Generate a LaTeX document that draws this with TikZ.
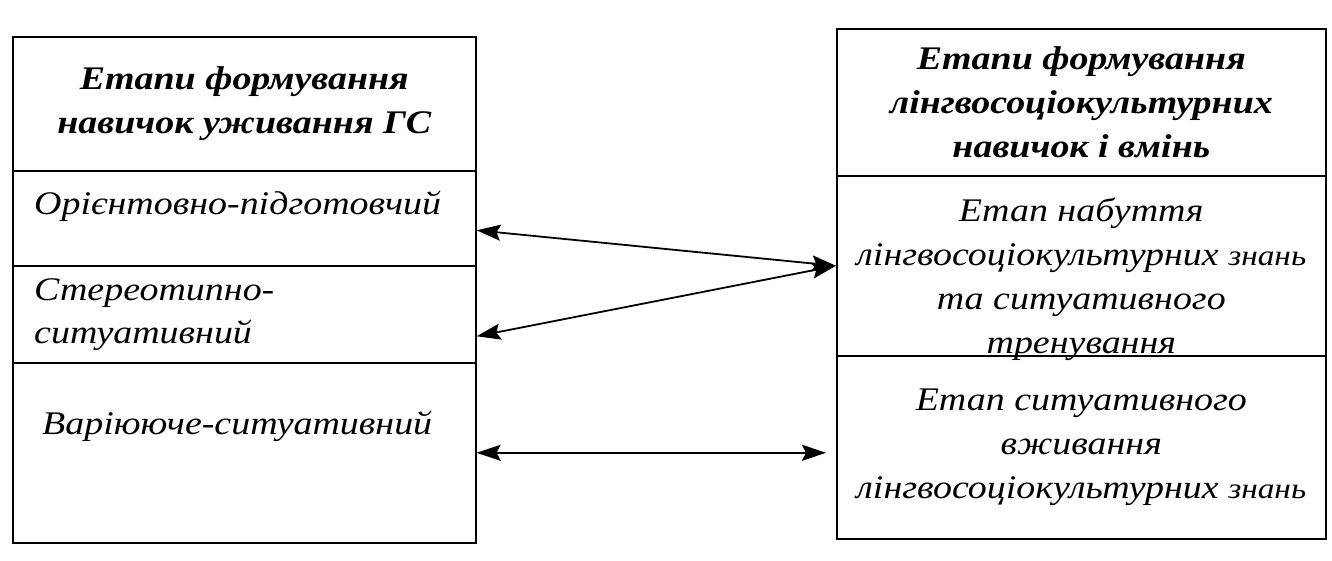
\documentclass[tikz,border=0pt]{standalone}
\usepackage{fontspec}
\setmainfont{Liberation Serif}[FakeStretch=1.15]
\usetikzlibrary{arrows.meta}
\begin{document}
\begin{tikzpicture}[x=1pt,y=-1pt,
  cell/.style={draw, line width=1.6pt, inner sep=0pt, anchor=north west},
  hdtext/.style={align=center, inner sep=0pt, font=\fontsize{33}{44}\selectfont\bfseries\itshape},
  bodytext/.style={align=left, inner sep=0pt, font=\fontsize{33}{43}\selectfont\itshape},
  ctrtext/.style={align=center, inner sep=0pt, font=\fontsize{33}{44}\selectfont\itshape},
  link/.style={line width=1.8pt, >={Stealth[length=24pt,width=16pt,inset=4pt]}, <->}]
\useasboundingbox (0,0) rectangle (1332,561);
% left table
\node[cell, minimum width=463pt, minimum height=134pt] (lh) at (12,36) {};
\node[cell, minimum width=463pt, minimum height=95pt] (l1) at (12,170) {};
\node[cell, minimum width=463pt, minimum height=97pt] (l2) at (12,265) {};
\node[cell, minimum width=463pt, minimum height=180pt] (l3) at (12,362) {};
\node[hdtext] (lht) at (lh.center) {Етапи формування\\навичок уживання ГС};
\node[bodytext, anchor=west] (l1t) at ([xshift=22pt,yshift=-36pt]l1.north west) {Орієнтовно-підготовчий};
\node[bodytext, anchor=west] (l2t) at ([xshift=22pt]l2.west) {Стереотипно-\\ситуативний};
\node[bodytext, anchor=west] (l3t) at ([xshift=30pt,yshift=-64pt]l3.north west) {Варіююче-ситуативний};
% right table
\node[cell, minimum width=489pt, minimum height=147pt] (rh) at (836,28) {};
\node[cell, minimum width=489pt, minimum height=180pt] (r1) at (836,175) {};
\node[cell, minimum width=489pt, minimum height=183pt] (r2) at (836,355) {};
\node[hdtext] (rht) at (rh.center) {Етапи формування\\лінгвосоціокультурних\\навичок і вмінь};
\node[ctrtext] (r1t) at ([yshift=-13pt]r1.center) {Етап набуття\\лінгвосоціокультурних {\fontsize{29}{44}\selectfont знань}\\та ситуативного\\тренування};
\node[ctrtext] (r2t) at (r2.center) {Етап ситуативного\\вживання\\лінгвосоціокультурних {\fontsize{29}{44}\selectfont знань}};
% connectors
\coordinate (a3) at ([xshift=-10pt]r2.west |- l3.east);
\draw[link] ([yshift=-12pt]l1.east) -- (r1.west);
\draw[link] (r1.west) -- ([yshift=-22pt]l2.east);
\draw[link] (l3.east) -- (a3);
\end{tikzpicture}
\end{document}
